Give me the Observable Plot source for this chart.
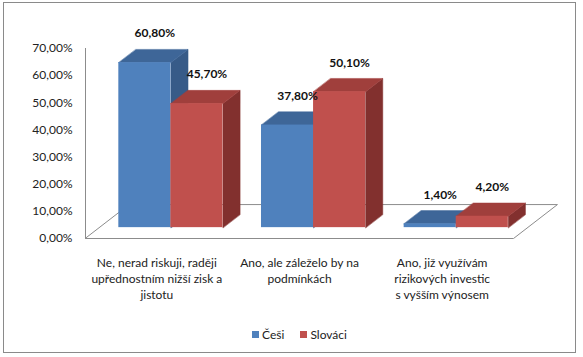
<!DOCTYPE html>
<html>
<head>
<meta charset="utf-8">
<script src="https://cdn.jsdelivr.net/npm/d3@7"></script>
<script src="https://cdn.jsdelivr.net/npm/@observablehq/plot@0.6"></script>
<style>
  html, body { margin: 0; padding: 0; background: #fff; }
  #wrap { position: relative; width: 583px; height: 357px; overflow: hidden; font-family: Lato, "Open Sans", sans-serif; }
  #frame { position: absolute; left: 3px; top: 2px; width: 573px; height: 351px; border: 1px solid #8a8a8a; box-sizing: border-box; }
  #chart { position: absolute; left: 0; top: 0; }
  #legend { position: absolute; top: 327px; left: 0; width: 583px; display: flex; justify-content: center; gap: 16px; font-size: 12px; color: #222; padding-left: 16px; box-sizing: border-box; }
  #legend span.sw { display: inline-block; width: 7px; height: 7px; margin-right: 3px; vertical-align: 1px; }
</style>
</head>
<body>
<div id="wrap">
  <div id="frame"></div>
  <div id="chart"></div>
  <div id="legend"></div>
</div>
<script>
// ---- data ----
const categories = [
  "Ne, nerad riskuji, raději\nupřednostním nižší zisk a\njistotu",
  "Ano, ale záleželo by na\npodmínkách",
  "Ano, již využívám\nrizikových investic\ns vyšším výnosem"
];
const seriesNames = ["Češi", "Slováci"];
const cesi = [60.8, 37.8, 1.4];
const slovaci = [45.7, 50.1, 4.2];
const yTicks = [0, 10, 20, 30, 40, 50, 60, 70];

// ---- styling ----
const frontColors = ["#4F81BD", "#C0504D"];
const topColors = ["#3E6698", "#A03F3C"];
const sideColors = ["#375B88", "#82302E"];
const fmt = v => v.toFixed(2).replace(".", ",") + "%";

// 3D geometry in data units (depth vector of the floor, bar width)
const DX = 0.308, DY = 12.5, W = 0.365, TF = 0.32, TB = 0.71;

const values = [cesi, slovaci];
const rows = [];
values.forEach((arr, s) => arr.forEach((v, g) => {
  const x1 = g - W + s * W + TF * DX;
  const x2 = x1 + W;
  rows.push({g, s, v, x1, x2, y1: TF * DY, y2: v + TF * DY, cx: (x1 + x2) / 2});
}));

function faces(kind, s) {
  const pts = [];
  rows.filter(r => r.s === s).forEach(r => {
    const fx = TF * DX, fy = TF * DY, bx = TB * DX, by = TB * DY;
    const x1 = r.x1 - fx, x2 = r.x2 - fx; // depth-0 projection
    let poly;
    if (kind === "top") poly = [[x1 + fx, r.v + fy], [x2 + fx, r.v + fy], [x2 + bx, r.v + by], [x1 + bx, r.v + by]];
    else poly = [[x2 + fx, fy], [x2 + fx, r.v + fy], [x2 + bx, r.v + by], [x2 + bx, by]];
    poly.forEach(([x, y]) => pts.push({id: kind + r.g, x, y}));
  });
  return pts;
}

const floor = [[-0.5, 0], [2.5, 0], [2.5 + DX, DY], [-0.5 + DX, DY]].map(([x, y]) => ({x, y}));

const barMarks = [];
[0, 1].forEach(s => {
  barMarks.push(Plot.line(faces("side", s), {x: "x", y: "y", z: "id", curve: "linear-closed", fill: sideColors[s], stroke: sideColors[s], strokeWidth: 0.5}));
  barMarks.push(Plot.line(faces("top", s), {x: "x", y: "y", z: "id", curve: "linear-closed", fill: topColors[s], stroke: topColors[s], strokeWidth: 0.5}));
  barMarks.push(Plot.rect(rows.filter(r => r.s === s), {x1: "x1", x2: "x2", y1: "y1", y2: "y2", fill: frontColors[s]}));
});

const catRows = categories.map((c, g) => ({g, c}));

const chart = Plot.plot({
  width: 583,
  height: 320,
  marginLeft: 85,
  marginRight: 70,
  marginTop: 48,
  marginBottom: 82,
  style: {fontFamily: "Lato, 'Open Sans', sans-serif", fontSize: "12px", color: "#222", background: "transparent", overflow: "visible"},
  x: {domain: [-0.5, 2.5], axis: null},
  y: {domain: [0, 70], ticks: yTicks, tickSize: 0, tickPadding: 13, tickFormat: fmt, label: null},
  marks: [
    Plot.line(floor, {x: "x", y: "y", curve: "linear-closed", fill: "white", stroke: "#8c8c8c", strokeWidth: 1}),
    Plot.ruleX([-0.5], {y1: 0, y2: 70, stroke: "#8c8c8c"}),
    ...barMarks,
    Plot.text(rows, {x: "cx", y: "y2", text: d => fmt(d.v), dx: 10, dy: -29, fontWeight: "bold", fontSize: 12, fill: "#111"}),
    Plot.text(catRows, {x: "g", y: 0, text: "c", lineAnchor: "top", dy: 17, lineHeight: 1.33, fontSize: 12, fill: "#222"})
  ]
});
document.getElementById("chart").appendChild(chart);

const legend = document.getElementById("legend");
seriesNames.forEach((n, i) => {
  const item = document.createElement("div");
  item.innerHTML = `<span class="sw" style="background:${frontColors[i]}"></span>${n}`;
  legend.appendChild(item);
});
</script>
</body>
</html>
